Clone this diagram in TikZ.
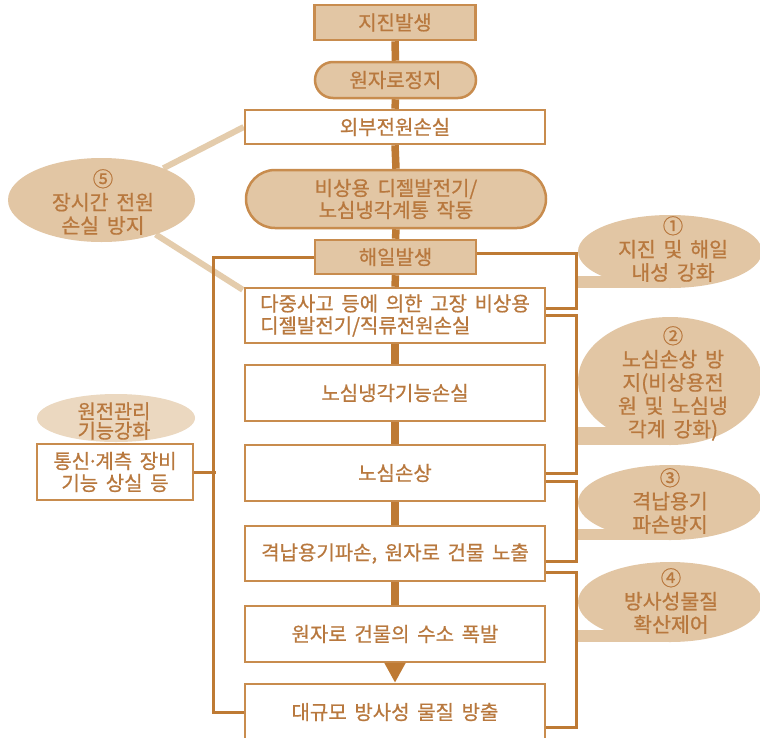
\documentclass[tikz,border=0pt]{standalone}
\usepackage{fontspec}
\setmainfont[WordSpace=1.7, FakeBold=0.7]{Noto Sans CJK KR}
\usetikzlibrary{arrows.meta,shapes.geometric,calc}
\definecolor{cBrn}{RGB}{190,122,52}
\definecolor{cBord}{RGB}{200,140,78}
\definecolor{cTan}{RGB}{226,198,164}
\definecolor{cLtan}{RGB}{235,216,192}
\definecolor{cTxt}{RGB}{184,120,62}
\definecolor{cFive}{RGB}{228,204,172}
\pgfdeclarelayer{bg}
\pgfsetlayers{bg,main}
\begin{document}
\begin{tikzpicture}[x=1pt,y=-1pt,
  box/.style={draw=cBord, line width=2.5pt, fill=white, minimum width=300pt,
    inner sep=0pt, text=cTxt, font=\fontsize{20}{22}\selectfont, align=center},
  tbox/.style={box, fill=cTan, minimum width=161pt, minimum height=35pt},
  conn/.style={draw=cBrn, line width=7.5pt},
  bk/.style={draw=cBrn, line width=3pt},
  bubble/.style={ellipse, fill=cTan, inner sep=0pt, minimum width=184pt},
  btext/.style={text=cTxt, align=center, inner sep=0pt, font=\fontsize{20.5}{23.3}\selectfont},
  fiveline/.style={draw=cFive, line width=6pt}
]
\clip (0,0) rectangle (760,737);

% main column
\node[tbox] (n1) at (395,22.5) {지진발생};
\node[tbox, rounded corners=18pt, minimum height=36pt] (n2) at (395.5,80) {원자로정지};
\node[box, minimum height=34pt] (n3) at (395,127) {외부전원손실};
\node[box, fill=cTan, rounded corners=29pt, minimum height=58pt] (n4) at (396,199) {비상용 디젤발전기/\\노심냉각계통 작동};
\node[tbox, minimum height=34pt] (n5) at (395.5,257) {해일발생};
\node[box, minimum height=55pt, align=left] (n6) at (395,315.5) {다중사고 등에 의한 고장 비상용\\디젤발전기/직류전원손실};
\node[box, minimum height=56pt] (n7) at (395,393) {노심냉각기능손실};
\node[box, minimum height=56pt] (n8) at (395,473) {노심손상};
\node[box, minimum height=55pt] (n9) at (395,553.5) {격납용기파손, 원자로 건물 노출};
\node[box, minimum height=56pt] (n10) at (395,634) {원자로 건물의 수소 폭발};
\node[box, minimum height=56pt] (n11) at (395,712) {대규모 방사성 물질 방출};

% left side
\node[ellipse, fill=cTan, inner sep=0pt, minimum width=187pt, minimum height=84pt] (e5) at (101.5,200) {};
\node[btext] (e5t) at (103,202) {⑤\\장시간 전원\\손실 방지};
\node[ellipse, fill=cLtan, inner sep=0pt, minimum width=158pt, minimum height=48pt] (g) at (116,418) {};
\node[btext, font=\fontsize{19.8}{19.5}\selectfont] (gt) at (114,421) {원전관리\\기능강화};
\node[box, minimum width=156pt, minimum height=56pt] (t) at (115,472) {통신\kern-3pt·\kern-3pt계측 장비\\기능 상실 등};

% right bubbles
\fill[cTan] (578,276) rectangle (670,288);
\node[bubble, minimum height=73pt] (b1) at (670,251.5) {};
\node[btext] (b1t) at (673,249) {①\\지진 및 해일\\내성 강화};
\fill[cTan] (578,427) rectangle (670,445);
\node[bubble, minimum height=128pt] (b2) at (670,381) {};
\node[btext] (b2t) at (673,383.5) {②\\노심손상 방\\지(비상용전\\원 및 노심냉\\각계 강화)};
\fill[cTan] (578,529) rectangle (670,540);
\node[bubble, minimum height=75pt] (b3) at (670,502.5) {};
\node[btext] (b3t) at (670,501) {③\\격납용기\\파손방지};
\fill[cTan] (578,630) rectangle (670,642);
\node[bubble, minimum height=80pt] (b4) at (670,602) {};
\node[btext] (b4t) at (671,601) {④\\방사성물질\\확산제어};

\begin{pgfonlayer}{bg}
  \fill[white] (0,0) rectangle (760,737);
  \draw[conn] (n1.south) -- (n2.north);
  \draw[conn] (n2.south) -- (n3.north);
  \draw[conn] (n3.south) -- (n4.north);
  \draw[conn] (n4.south) -- (n5.north);
  \draw[conn] (n5.south) -- (n6.north);
  \draw[conn] (n6.south) -- (n7.north);
  \draw[conn] (n7.south) -- (n8.north);
  \draw[conn] (n8.south) -- (n9.north);
  \draw[conn] (n9.south) -- (n10.north);
  \draw[fiveline] (e5) -- (n3.west);
  \draw[fiveline] (e5) -- ([xshift=-1pt,yshift=-3pt]n6.north west);
\end{pgfonlayer}
\draw[conn, line width=6pt, -{Triangle[width=20pt,length=20pt]}] (n10.south) -- (n11.north);

% brackets
\draw[bk] ([yshift=4pt]n5.east) -- ++(99,0) |- ([yshift=7.5pt]n6.east);
\draw[bk] (n6.east) -- ++(30,0) |- (n8.east);
\draw[bk] ([yshift=-8pt]n8.east) -- ++(30,0) |- ([yshift=-7.5pt]n9.east);
\draw[bk] ([yshift=-18.5pt]n9.east) -- ++(30,0) |- ([yshift=-15pt]n11.east);
\draw[bk] (n5.west) -- ++(-100,0) |- (n11.west);
\draw[bk] (t.east) -- ++(22,0);
\end{tikzpicture}
\end{document}
